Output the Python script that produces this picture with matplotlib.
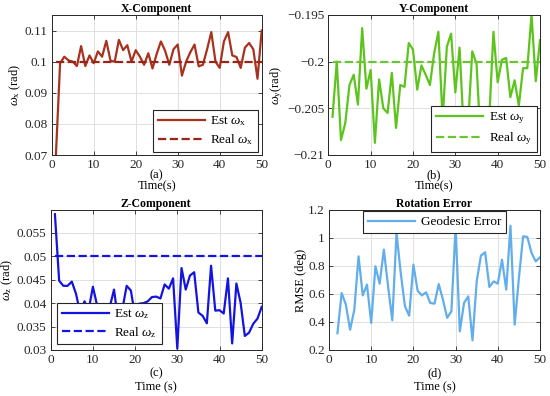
import numpy as np
import matplotlib
matplotlib.use("Agg")
import matplotlib.pyplot as plt

plt.rcParams['font.family'] = ['Liberation Serif', 'DejaVu Serif']
plt.rcParams['mathtext.fontset'] = 'custom'
plt.rcParams['mathtext.rm'] = 'Liberation Serif'
plt.rcParams['mathtext.it'] = 'Liberation Serif:italic'
plt.rcParams['mathtext.bf'] = 'Liberation Serif:bold'
plt.rcParams['axes.unicode_minus'] = True

# ---------------- data ----------------
time = np.arange(1, 51)
time_err = np.arange(2, 51)

est_wx = [0.070, 0.0995, 0.1016, 0.1004, 0.1000, 0.0986, 0.1050, 0.0986, 0.1020, 0.0995,
          0.1033, 0.1016, 0.1067, 0.1003, 0.1000, 0.1070, 0.1037, 0.1053, 0.1000, 0.1037,
          0.1016, 0.0990, 0.1027, 0.0978, 0.1025, 0.1065, 0.1035, 0.0990, 0.1040, 0.1055,
          0.0955, 0.1000, 0.1030, 0.1055, 0.0985, 0.0990, 0.1040, 0.1095, 0.1000, 0.0980,
          0.1065, 0.1095, 0.1020, 0.1015, 0.0980, 0.1045, 0.1060, 0.1040, 0.0945, 0.1100]
real_wx = 0.1

est_wy = [-0.2059, -0.2000, -0.2084, -0.2066, -0.2025, -0.2014, -0.2046, -0.1964, -0.2029, -0.2009,
          -0.2087, -0.2019, -0.2050, -0.2055, -0.2012, -0.2071, -0.2025, -0.2027, -0.1980, -0.1987,
          -0.2030, -0.2004, -0.2014, -0.2025, -0.1991, -0.1968, -0.2062, -0.1984, -0.1970, -0.2033,
          -0.1985, -0.2075, -0.2068, -0.1989, -0.2002, -0.2085, -0.2072, -0.2062, -0.1968, -0.2022,
          -0.1998, -0.1996, -0.2038, -0.2020, -0.2047, -0.2007, -0.2007, -0.1950, -0.2021, -0.1977]
real_wy = -0.2

est_wz = [0.0590, 0.0448, 0.0437, 0.0437, 0.0446, 0.0420, 0.0378, 0.0404, 0.0386, 0.0435,
          0.0395, 0.0368, 0.0378, 0.0392, 0.0429, 0.0362, 0.0388, 0.0437, 0.0427, 0.0372,
          0.0399, 0.0400, 0.0404, 0.0413, 0.0414, 0.0410, 0.0440, 0.0431, 0.0453, 0.0303,
          0.0475, 0.0429, 0.0459, 0.0466, 0.0380, 0.0373, 0.0357, 0.0480, 0.0384, 0.0385,
          0.0378, 0.0453, 0.0314, 0.0442, 0.0401, 0.0330, 0.0337, 0.0356, 0.0367, 0.0392]
real_wz = 0.05

rmse_deg = [0.320, 0.607, 0.524, 0.345, 0.488, 0.869, 0.590, 0.667, 0.393,
            0.798, 0.674, 0.917, 0.655, 0.412, 1.036, 0.750, 0.512, 0.445, 0.810,
            0.624, 0.590, 0.612, 0.536, 0.531, 0.671, 0.560, 0.430, 0.476, 1.080,
            0.333, 0.536, 0.583, 0.269, 0.690, 0.874, 0.898, 0.650, 0.690, 0.674,
            0.845, 0.631, 1.088, 0.381, 0.714, 1.012, 1.007, 0.893, 0.833, 0.862]

xticks = [0, 10, 20, 30, 40, 50]
yticks_x = [0.07, 0.08, 0.09, 0.1, 0.11]
ylabels_x = ['0.07', '0.08', '0.09', '0.1', '0.11']
yticks_y = [-0.21, -0.205, -0.2, -0.195]
ylabels_y = ['\u22120.21', '\u22120.205', '\u22120.2', '\u22120.195']
yticks_z = [0.03, 0.035, 0.04, 0.045, 0.05, 0.055]
ylabels_z = ['0.03', '0.035', '0.04', '0.045', '0.05', '0.055']
yticks_e = [0.2, 0.4, 0.6, 0.8, 1.0, 1.2]
ylabels_e = ['0.2', '0.4', '0.6', '0.8', '1', '1.2']

# ---------------- figure ----------------
fig = plt.figure(figsize=(5.5, 3.96), dpi=100)
W, H = 550, 396

def add_ax(l, r, t, b):
    return fig.add_axes([l / W, 1 - b / H, (r - l) / W, (b - t) / H])

axA = add_ax(51.7, 261.7, 15, 155)
axB = add_ax(328.3, 540, 15, 155)
axC = add_ax(50.7, 261.7, 209.5, 350)
axD = add_ax(329, 540, 210, 350)

TICK_FS = 9.5
LAB_FS = 9
TITLE_FS = 8.5
LEG_FS = 9.5

def style(ax, title, xlabel, ylabel, yticks, ylim, ylabels, top_row):
    ax.set_xlim(0, 50)
    ax.set_ylim(*ylim)
    ax.set_xticks(xticks)
    ax.set_yticks(yticks)
    ax.set_yticklabels(ylabels)
    ax.grid(True, color='#e0e0e0', linewidth=0.7)
    ax.set_axisbelow(True)
    ax.tick_params(direction='in', top=True, right=True, labelsize=TICK_FS,
                   length=3, width=0.6, colors='#262626', pad=3)
    for s in ax.spines.values():
        s.set_color('#262626')
        s.set_linewidth(0.7)
    ax.set_title(title, fontsize=TITLE_FS, fontweight='bold', pad=2)
    if top_row:
        ax.set_xlabel(xlabel, fontsize=LAB_FS, labelpad=-1.5, linespacing=0.95)
    else:
        ax.set_xlabel(xlabel, fontsize=LAB_FS, labelpad=1, linespacing=1.15)
    ax.set_ylabel(ylabel, fontsize=LAB_FS, labelpad=1)

def legend(ax, loc, **kw):
    leg = ax.legend(loc=loc, fontsize=LEG_FS, handlelength=3.6, frameon=True,
                    fancybox=False, edgecolor='#262626', framealpha=1,
                    borderpad=0.35, labelspacing=0.3, handletextpad=0.4, **kw)
    leg.get_frame().set_linewidth(0.8)
    return leg

# (a) X-Component
axA.plot(time, est_wx, color='#a8321e', lw=1.6, label=r'Est $\omega_{\mathrm{x}}$')
axA.plot(time, [real_wx] * len(time), '--', color='#9a2418', lw=1.6,
         label=r'Real $\omega_{\mathrm{x}}$')
style(axA, 'X-Component', '(a)\nTime(s)', r'$\omega_{\mathrm{x}}$ (rad)',
      yticks_x, (0.07, 0.115), ylabels_x, True)
legend(axA, 'lower right', borderaxespad=0.25)

# (b) Y-Component
axB.plot(time, est_wy, color='#5cc41c', lw=1.6, label=r'Est $\omega_{\mathrm{y}}$')
axB.plot(time, [real_wy] * len(time), '--', color='#6cc434', lw=1.6,
         label=r'Real $\omega_{\mathrm{y}}$')
style(axB, 'Y-Component', '(b)\nTime(s)', r'$\omega_{\mathrm{y}}$(rad)',
      yticks_y, (-0.21, -0.195), ylabels_y, True)
legend(axB, 'lower right', borderaxespad=0.25)

# (c) Z-Component
axC.plot(time, est_wz, color='#1414e0', lw=1.6, label=r'Est $\omega_{\mathrm{z}}$')
axC.plot(time, [real_wz] * len(time), '--', color='#1414e0', lw=1.6,
         label=r'Real $\omega_{\mathrm{z}}$')
style(axC, 'Z-Component', '(c)\nTime (s)', r'$\omega_{\mathrm{z}}$ (rad)',
      yticks_z, (0.03, 0.06), ylabels_z, False)
legend(axC, 'lower left', bbox_to_anchor=(0.03, 0.04), borderaxespad=0)

# (d) Rotation Error
axD.plot(time_err, rmse_deg, color='#62aeea', lw=1.6, label='Geodesic Error')
style(axD, 'Rotation Error', '(d)\nTime (s)', 'RMSE (deg)',
      yticks_e, (0.2, 1.2), ylabels_e, False)
legend(axD, 'upper center', borderaxespad=0.1)

fig.savefig('out.png', dpi=100)
